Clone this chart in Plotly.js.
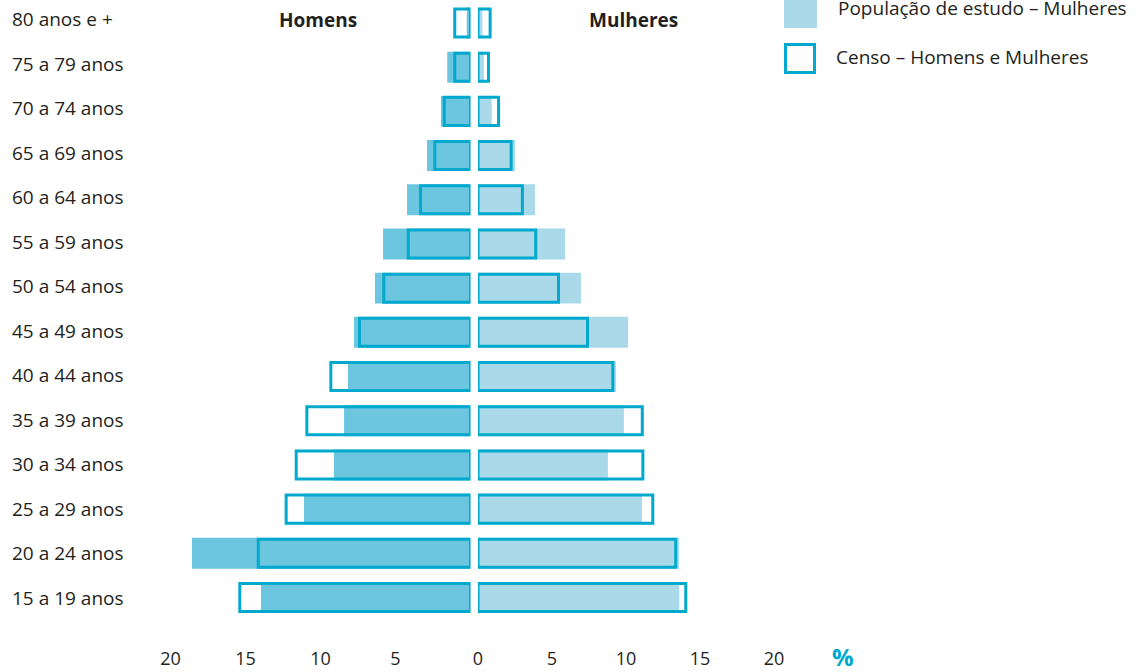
<!DOCTYPE html>
<html>
<head>
<meta charset="utf-8">
<script src="https://cdn.plot.ly/plotly-3.0.1.min.js"></script>
<style>html,body{margin:0;padding:0;background:#fff;}#chart{width:1142px;height:672px;}</style>
</head>
<body>
<div id="chart"></div>
<script>
// Age groups, bottom to top
const categories = ['15 a 19 anos','20 a 24 anos','25 a 29 anos','30 a 34 anos','35 a 39 anos','40 a 44 anos','45 a 49 anos','50 a 54 anos','55 a 59 anos','60 a 64 anos','65 a 69 anos','70 a 74 anos','75 a 79 anos','80 anos e +'];

// Percentages
const homensEstudo   = [13.97, 18.57, 11.1, 9.1, 8.43, 8.17, 7.77, 6.37, 5.83, 4.23, 2.9, 1.97, 1.55, 0.25];
const homensCenso    = [15.38, 14.15, 12.29, 11.62, 10.91, 9.31, 7.4, 5.78, 4.15, 3.33, 2.38, 1.75, 1.05, 1.05];
const mulheresEstudo = [13.6, 13.58, 11.08, 8.78, 9.86, 9.32, 10.14, 6.96, 5.88, 3.85, 2.5, 0.93, 0.4, 0.3];
const mulheresCenso  = [14.04, 13.36, 11.81, 11.14, 11.1, 9.11, 7.4, 5.44, 3.9, 3.0, 2.24, 1.39, 0.71, 0.82];

const leftTicks  = [20, 15, 10, 5];
const rightTicks = [0, 5, 10, 15, 20];

const legendLabels = ['População de estudo – Mulheres', 'Censo – Homens e Mulheres'];

const W = 1142, H = 672, PB = 52, PH = H - PB;
const px = v => v / W;
const py = v => (PH - v) / PH;

const cMen = '#6cc6df', cWomen = '#aadae9', cLine = '#00a9cd', cText = '#231f20';
const font = 'Open Sans, Noto Sans, sans-serif';

const traces = [
  {type:'bar', orientation:'h', y:categories, x:homensEstudo, xaxis:'x', yaxis:'y',
   width:0.70, marker:{color:cMen, line:{width:0}}, cliponaxis:false, hoverinfo:'x+y'},
  {type:'bar', orientation:'h', y:categories, x:mulheresEstudo, xaxis:'x2', yaxis:'y',
   width:0.70, marker:{color:cWomen, line:{width:0}}, cliponaxis:false, hoverinfo:'x+y'},
  {type:'bar', orientation:'h', y:categories, x:homensCenso, xaxis:'x', yaxis:'y',
   width:0.634, marker:{color:'rgba(0,0,0,0)', line:{width:3, color:cLine}}, cliponaxis:false, hoverinfo:'x+y'},
  {type:'bar', orientation:'h', y:categories, x:mulheresCenso, xaxis:'x2', yaxis:'y',
   width:0.634, marker:{color:'rgba(0,0,0,0)', line:{width:3, color:cLine}}, cliponaxis:false, hoverinfo:'x+y'}
];

const axisCommon = {
  showgrid:false, zeroline:false, showline:false,
  ticks:'outside', ticklen:22, tickcolor:'rgba(0,0,0,0)',
  tickfont:{family:font, size:18, color:cText}, fixedrange:true
};

const annotations = categories.map(c => ({
  xref:'paper', yref:'y2', x:px(10), y:c, text:c, showarrow:false,
  xanchor:'left', yanchor:'middle', font:{family:font, size:19, color:cText}
}));
annotations.push(
  {xref:'paper', yref:'paper', x:px(317.5), y:py(19.5), text:'<b>Homens</b>', showarrow:false,
   xanchor:'center', yanchor:'middle', font:{family:font, size:19, color:cText}},
  {xref:'paper', yref:'paper', x:px(633), y:py(19.5), text:'<b>Mulheres</b>', showarrow:false,
   xanchor:'center', yanchor:'middle', font:{family:font, size:19, color:cText}},
  {xref:'paper', yref:'paper', x:px(843), y:py(656), text:'<b>%</b>', showarrow:false,
   xanchor:'center', yanchor:'middle', borderpad:0, font:{family:font, size:24, color:cLine}},
  {xref:'paper', yref:'paper', x:px(836), y:py(8), text:legendLabels[0], showarrow:false,
   xanchor:'left', yanchor:'middle', font:{family:font, size:19, color:cText}},
  {xref:'paper', yref:'paper', x:px(834), y:py(57), text:legendLabels[1], showarrow:false,
   xanchor:'left', yanchor:'middle', font:{family:font, size:19, color:cText}}
);

const shapes = [
  {type:'rect', xref:'paper', yref:'paper', x0:px(784), x1:px(817), y0:py(28), y1:py(-3),
   fillcolor:cWomen, line:{width:0}},
  {type:'rect', xref:'paper', yref:'paper', x0:px(785.5), x1:px(814.5), y0:py(72.5), y1:py(44.5),
   fillcolor:'rgba(0,0,0,0)', line:{width:3, color:cLine}}
];

const layout = {
  width:W, height:H, margin:{l:0, r:0, t:0, b:PB, pad:0},
  paper_bgcolor:'#fff', plot_bgcolor:'#fff', showlegend:false, barmode:'overlay',
  xaxis:Object.assign({}, axisCommon, {domain:[px(170.5), px(470.5)], range:[20, 0], tickvals:leftTicks, anchor:'y'}),
  xaxis2:Object.assign({}, axisCommon, {domain:[px(478), px(774)], range:[0, 20], tickvals:rightTicks, anchor:'y'}),
  yaxis:{type:'category', categoryorder:'array', categoryarray:categories, range:[-0.509, 13.52],
         showticklabels:false, showgrid:false, zeroline:false, showline:false, ticks:'', fixedrange:true, domain:[0,1]},
  yaxis2:{type:'category', categoryorder:'array', categoryarray:categories, range:[-0.494, 13.43],
          overlaying:'y', anchor:'x', visible:false, showticklabels:false, showgrid:false, zeroline:false,
          showline:false, ticks:'', fixedrange:true},
  annotations:annotations, shapes:shapes
};

Plotly.newPlot('chart', traces, layout, {displayModeBar:false, staticPlot:true});
</script>
</body>
</html>
